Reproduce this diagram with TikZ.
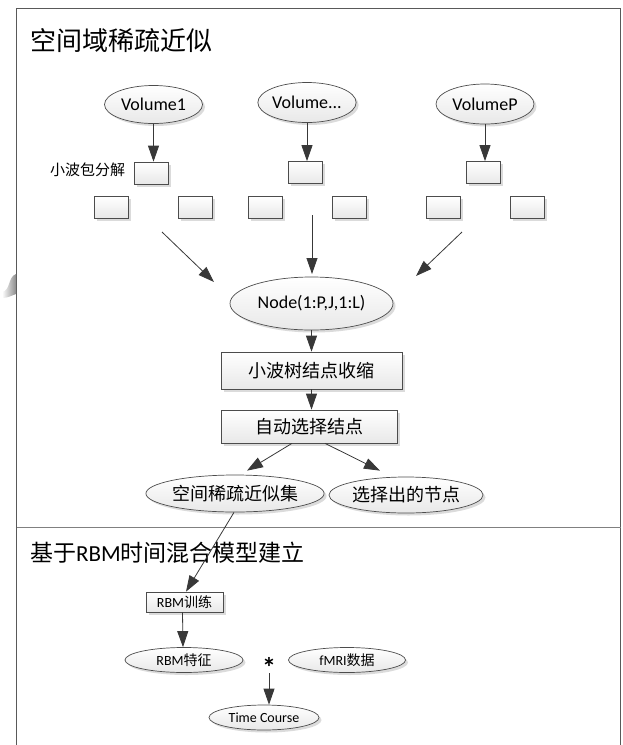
\documentclass[tikz,border=0pt]{standalone}
\usepackage{fontspec}
\setmainfont{Carlito}
\newfontfamily\cjk{Noto Sans CJK SC}
\usetikzlibrary{arrows.meta,shapes.geometric,shadows,calc}
\begin{document}
\begin{tikzpicture}[x=1pt,y=-1pt,
  frameline/.style={draw=black!65, line width=1pt},
  conn/.style={draw=black!78, line width=0.8pt},
  arr/.style={conn, -{Triangle[length=16pt,width=11pt]}},
  sh/.style={drop shadow={shadow xshift=2.5pt,shadow yshift=-2.5pt,fill=black!35,opacity=0.4}},
  ell/.style={ellipse, draw=black!70, line width=0.7pt, top color=white, bottom color=black!9, inner sep=0pt, sh},
  sq/.style={rectangle, draw=black!70, line width=0.7pt, top color=white, bottom color=black!9, minimum width=34pt, minimum height=22pt, inner sep=0pt, sh},
  big/.style={font=\fontsize{18}{20}\selectfont},
  small/.style={font=\fontsize{14}{16}\selectfont}
]
\useasboundingbox (0,0) rectangle (622,745);

% frame
\draw[frameline] (16.5,760) -- (16.5,8) -- (620.5,8) -- (620.5,760);
\draw[draw=black!50, line width=1pt] (16.5,527) -- (620.5,527);
\shade[left color=white, right color=black!45] (2,292) to[out=10,in=200] (16,274) -- (16,294) to[out=200,in=0] (2,298) -- cycle;

% titles
\node[anchor=west, inner sep=0pt, font=\fontsize{26}{30}\selectfont\cjk] (t1) at (30,41) {空间域稀疏近似};
\node[anchor=west, inner sep=0pt, font=\fontsize{23}{27}\selectfont] (t2) at (30,553) {{\cjk 基于}RBM{\cjk 时间混合模型建立}};

% volumes
\node[ell, big, minimum width=98pt, minimum height=38pt] (v1) at (153.5,104.5) {Volume1};
\node[ell, big, minimum width=96pt, minimum height=40pt] (v2) at (307,102.5) {Volume...};
\node[ell, big, minimum width=98pt, minimum height=40pt] (v3) at (485,104) {VolumeP};

% wavelet packet boxes
\node[sq] (b1) at (151,173) {};
\node[sq] (b2) at (305,172.5) {};
\node[sq] (b3) at (483.5,172.5) {};
\node[sq] (b1l) at (111,207) {};
\node[sq] (b1r) at (195,207) {};
\node[sq] (b2l) at (265,207) {};
\node[sq] (b2r) at (349,207) {};
\node[sq] (b3l) at (443.5,207) {};
\node[sq] (b3r) at (527.5,207) {};
\node[anchor=west, inner sep=0pt, font=\fontsize{15}{17}\selectfont\cjk] (lbl) at (50,170) {小波包分解};

\draw[arr] (v1) -- (v1 |- b1.north);
\draw[arr] (v2) -- (v2 |- b2.north);
\draw[arr] (v3) -- (v3 |- b3.north);

% node ellipse
\node[ell, big, minimum width=163pt, minimum height=53pt] (nd) at (311.5,303.5) {Node(1:P,J,1:L)};
\coordinate (s1) at (162,232);
\coordinate (e1) at (214,282);
\coordinate (s2) at (312,215);
\coordinate (e2) at (312,274);
\coordinate (s3) at (462,232);
\coordinate (e3) at (416,276);
\draw[arr] (s1) -- (e1);
\draw[arr] (s2) -- (e2);
\draw[arr] (s3) -- (e3);

% processing boxes
\node[sq, font=\fontsize{18}{20}\selectfont\cjk, minimum width=181pt, minimum height=37pt] (shr) at (311.5,370.5) {小波树结点收缩};
\node[sq, font=\fontsize{18}{20}\selectfont\cjk, minimum width=176pt, minimum height=33pt] (auto) at (309,426.5) {自动选择结点};
\draw[arr] (nd) -- (nd |- shr.north);
\draw[arr] (shr) -- (shr |- auto.north);

\node[ell, font=\fontsize{18}{20}\selectfont\cjk, minimum width=146pt, minimum height=37pt] (se) at (235,493.5) {空间稀疏近似集};
\node[ell, font=\fontsize{18}{20}\selectfont\cjk, minimum width=154pt, minimum height=36pt] (sel) at (406,495) {选择出的节点};
\draw[arr] ($(auto.south)+(-17,0)$) -- ($(se.north)+(12,-4)$);
\draw[arr] ($(auto.south)+(16,0)$) -- ($(sel.north)+(-26,-6)$);

% RBM part
\node[sq, small, minimum width=77pt, minimum height=20pt] (rbmt) at (184.5,602) {RBM{\cjk 训练}};
\draw[arr] ($(se.south)+(-1,0)$) -- ($(rbmt.north)+(1.5,0)$);
\node[ell, small, minimum width=118pt, minimum height=25pt] (rbmf) at (184,660) {RBM{\cjk 特征}};
\draw[arr] ($(rbmt.south)+(-2,0)$) -- ($(rbmf.north)+(-1,0)$);
\node[inner sep=0pt, font=\fontsize{28}{28}\selectfont\bfseries] (star) at (269,667) {*};
\node[ell, small, minimum width=117pt, minimum height=25pt] (fmri) at (347,660) {fMRI{\cjk 数据}};
\node[ell, small, minimum width=110pt, minimum height=25pt] (tc) at (264,717.5) {Time Course};
\coordinate (ts) at (269,673);
\draw[arr] (ts) -- (ts |- tc.north);
\end{tikzpicture}
\end{document}
